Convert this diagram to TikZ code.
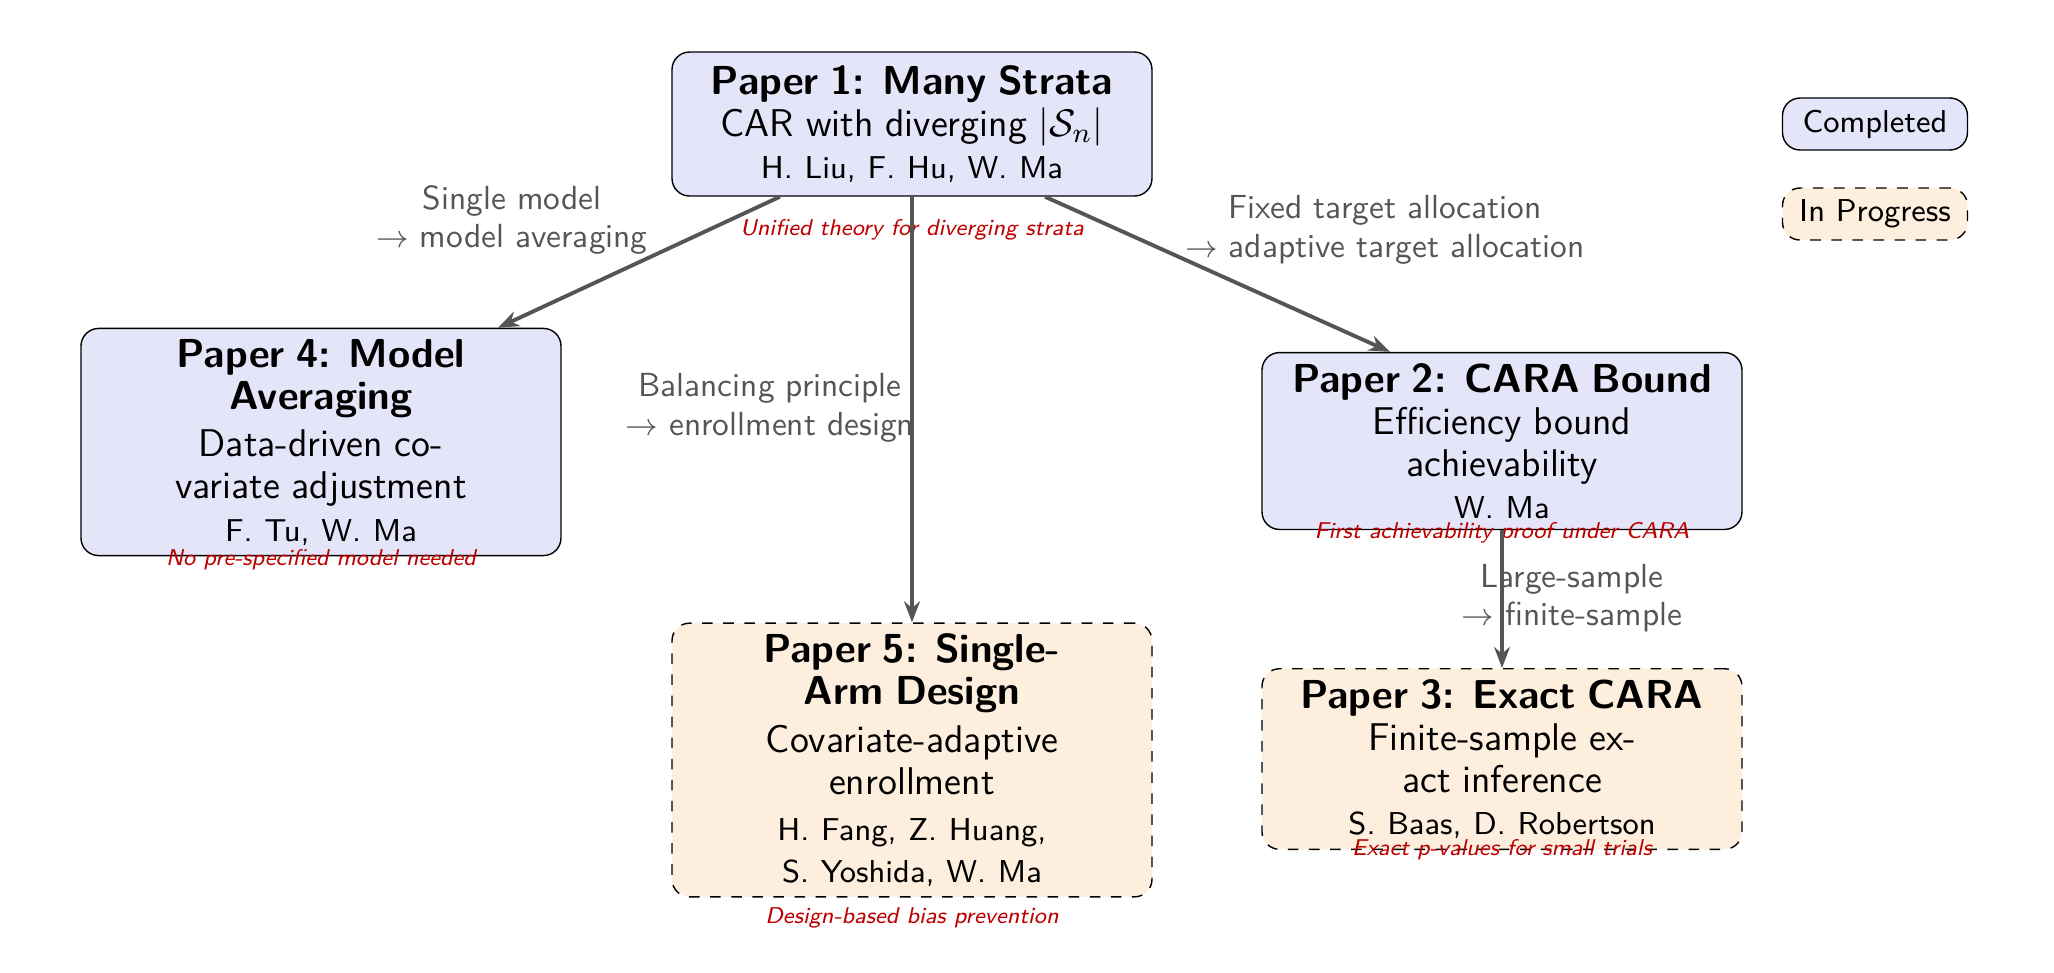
\documentclass[tikz,border=0pt]{standalone}
\usepackage{amsmath, amssymb}
\usepackage{tikz}
\usetikzlibrary{calc}
\usetikzlibrary{arrows.meta}
\definecolor{donefill}{RGB}{229,229,250}
\definecolor{progfill}{RGB}{253,238,221}
\definecolor{notered}{RGB}{190,0,0}
\definecolor{edgegray}{RGB}{85,85,85}
\tikzset{paper/.style={draw=black,rounded corners=5pt,align=center,text width=4.5cm,
    minimum width=4.8cm,inner sep=3pt,font=\sffamily},
  done/.style={paper,fill=donefill},
  prog/.style={paper,fill=progfill,dashed},
  note/.style={font=\sffamily\itshape\fontsize{6.5}{8}\selectfont,text=notered},
  link/.style={draw=edgegray,line width=1.1pt,-{Stealth[length=6pt]}},
  link label/.style={font=\sffamily\fontsize{9.5}{11}\selectfont,text=edgegray,align=center},
  legend/.style={draw=black,rounded corners=5pt,minimum width=1.85cm,minimum height=0.52cm,font=\sffamily\fontsize{9}{10}\selectfont}}
\newcommand{\ptitle}[1]{{\fontsize{11.5}{13.5}\selectfont\bfseries #1}}
\newcommand{\pbody}[1]{{\fontsize{11}{13.5}\selectfont #1}}
\newcommand{\pauth}[1]{{\fontsize{9}{13}\selectfont #1}}

\begin{document}
\begin{tikzpicture}
  \useasboundingbox (0,0) rectangle (20.54,-9.72);

  % papers
  \node[done, minimum height=1.44cm] (p1) at (9.12,-1.24)
    {\ptitle{Paper 1: Many Strata}\\ \pbody{CAR with diverging $|\mathcal{S}_n|$}\\ \pauth{H. Liu, F. Hu, W. Ma}};
  \node[done, minimum height=1.86cm] (p4) at (3.21,-4.42)
    {\ptitle{Paper 4: Model Averaging}\\ \pbody{Data-driven co-\\variate adjustment}\\ \pauth{F. Tu, W. Ma}};
  \node[done, minimum height=1.38cm] (p2) at (15.02,-4.41)
    {\ptitle{Paper 2: CARA Bound}\\ \pbody{Efficiency bound achievability}\\ \pauth{W. Ma}};
  \node[prog, minimum height=2.73cm] (p5) at (9.12,-7.60)
    {\ptitle{Paper 5: Single-\\Arm Design}\\ \pbody{Covariate-adaptive\\enrollment}\\ \pauth{H. Fang, Z. Huang,\\S. Yoshida, W. Ma}};
  \node[prog, minimum height=1.42cm] (p3) at (15.02,-7.59)
    {\ptitle{Paper 3: Exact CARA}\\ \pbody{Finite-sample exact inference}\\ \pauth{S. Baas, D. Robertson}};

  % notes
  \node[note] (n1) at (9.12,-2.30) {Unified theory for diverging strata};
  \node[note] (n4) at (3.21,-5.60) {No pre-specified model needed};
  \node[note] (n2) at (15.02,-5.33) {First achievability proof under CARA};
  \node[note] (n5) at (9.12,-9.18) {Design-based bias prevention};
  \node[note] (n3) at (15.02,-8.50) {Exact p-values for small trials};

  % links
  \draw[link] ($(p1.south)+(-1.32,0)$) -- ($(p4.north)+(1.77,0)$);
  \draw[link] (p1.south) -- (p5.north);
  \draw[link] ($(p1.south)+(1.33,0)$) -- ($(p2.north)+(-1.12,0)$);
  \draw[link] (p2.south) -- (p3.north);

  \node[link label] (l14) at (5.12,-2.20) {Single model\\$\rightarrow$ model averaging};
  \node[link label] (l15) at (7.70,-4.08) {Balancing principle\\$\rightarrow$ enrollment design};
  \node[link label] (l12) at (13.85,-2.30) {Fixed target allocation\\$\rightarrow$ adaptive target allocation};
  \node[link label] (l23) at (15.72,-5.98) {Large-sample\\$\rightarrow$ finite-sample};

  % legend
  \node[legend, fill=donefill] (done) at (18.75,-1.24) {Completed};
  \node[legend, fill=progfill, dashed] (prog) at (18.75,-2.14) {In Progress};
\end{tikzpicture}
\end{document}
